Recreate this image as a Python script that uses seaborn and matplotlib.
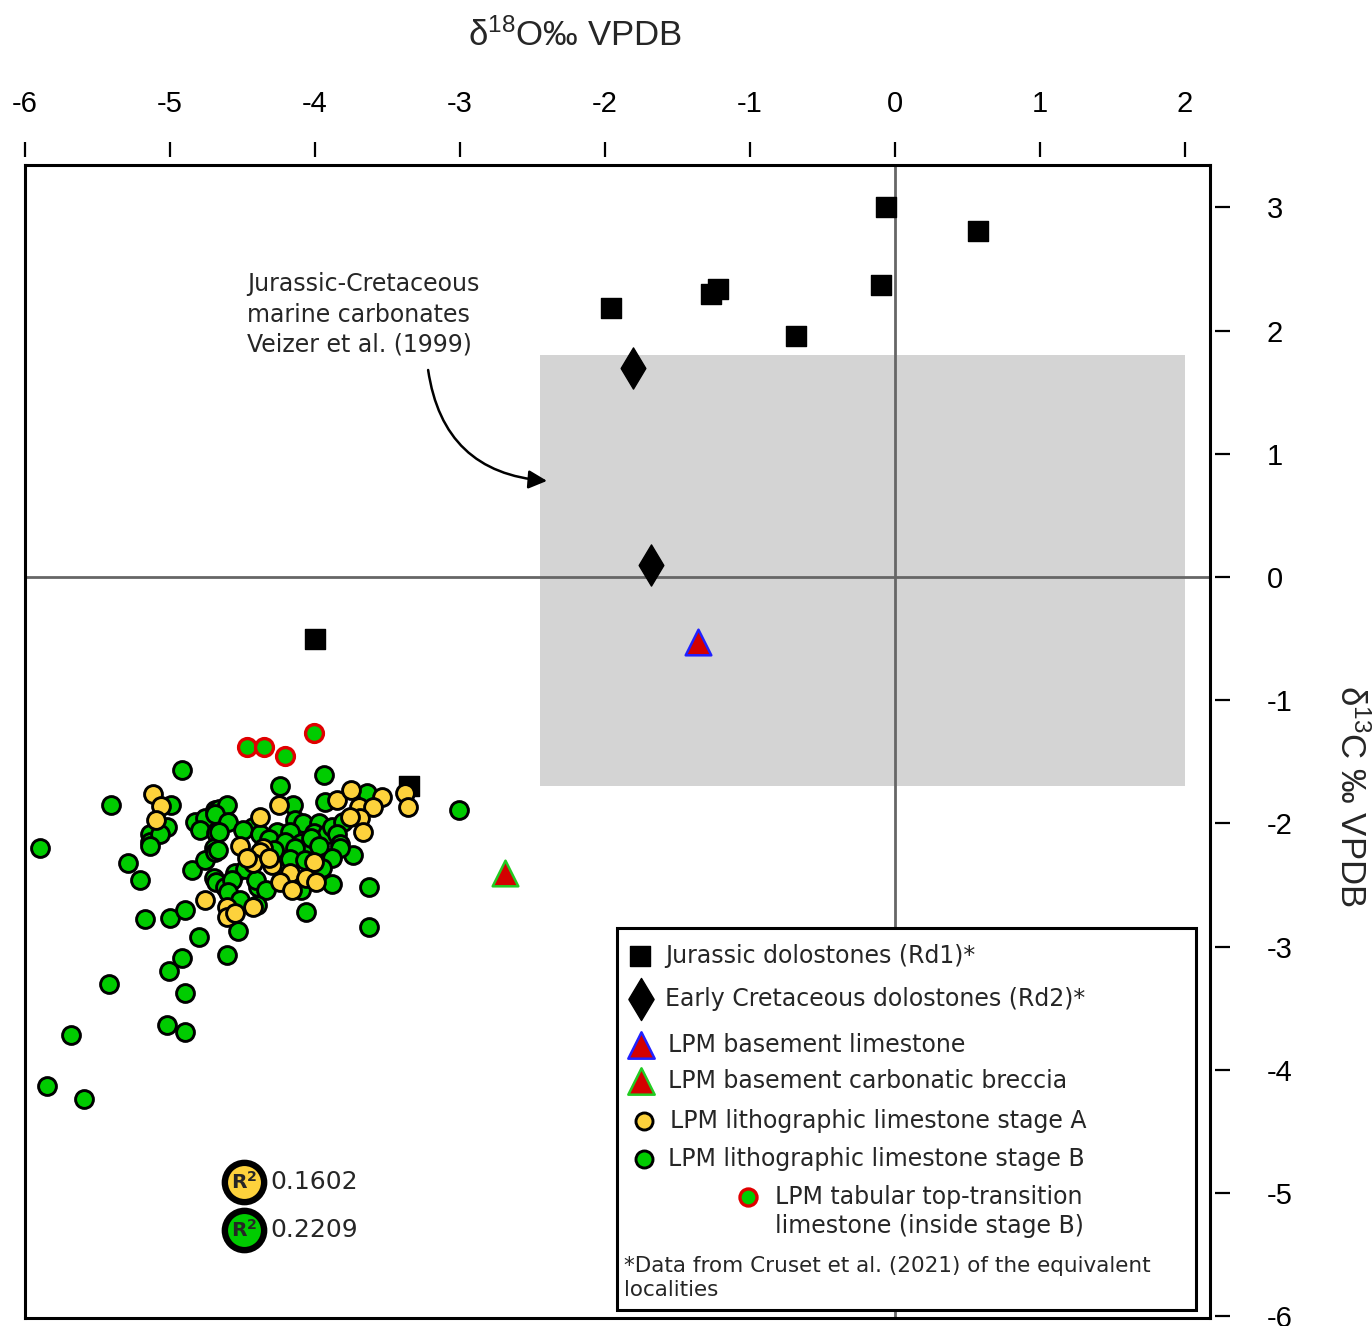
import numpy as np
import pandas as pd
import seaborn as sns
import matplotlib.pyplot as plt
from matplotlib.patches import Rectangle

sns.set_style('white')
plt.rcParams['font.family'] = ['DejaVu Sans']
plt.rcParams['axes.unicode_minus'] = False
plt.rcParams['mathtext.fontset'] = 'custom'
plt.rcParams['mathtext.rm'] = 'Liberation Sans'

# d18O (x) and d13C (y), per VPDB
jurassic_x = [-0.06, 0.57, -1.96, -1.27, -1.22, -0.10, -0.68, -4.00, -3.35]
jurassic_y = [3.00, 2.81, 2.18, 2.30, 2.34, 2.37, 1.96, -0.50, -1.70]

cretaceous_x = [-1.81, -1.68]
cretaceous_y = [1.70, 0.10]

basement_x = [-1.36]
basement_y = [-0.53]

breccia_x = [-2.69]
breccia_y = [-2.40]

stage_b_x = [-5.90, -5.85, -5.59, -5.68, -5.42, -5.02, -4.90, -4.90, -5.01, -4.92,
             -4.80, -4.61, -5.17, -5.00, -4.90, -5.29, -5.21, -5.41, -4.92, -3.94,
             -4.24, -3.01, -3.63, -3.63, -4.06, -3.88, -4.53,
             -4.99, -5.02, -5.14, -5.14, -5.07, -4.83, -4.76, -4.79, -4.69, -4.68, -4.70,
             -4.15, -3.93, -4.66, -4.61, -4.69, -4.60, -4.66, -4.43, -4.26, -4.14,
             -4.08, -3.97, -4.01, -3.92, -4.17, -4.10, -3.88,
             -3.64, -3.81, -3.85, -3.83, -3.74,
             -4.85, -4.76, -4.69, -4.70, -4.68, -5.14,
             -4.67, -4.55, -4.62, -4.39, -3.92, -4.06, -4.36, -4.30, -3.83, -3.88,
             -4.50, -4.38, -4.32, -4.21, -4.14, -4.03, -3.97, -4.17, -4.28, -4.07,
             -3.95, -4.48, -4.41, -4.34, -4.57, -4.60, -4.52, -4.10, -4.40]
stage_b_y = [-2.20, -4.13, -4.24, -3.72, -3.30, -3.64, -3.69, -3.38, -3.20, -3.09,
             -2.92, -3.07, -2.78, -2.77, -2.70, -2.32, -2.46, -1.85, -1.57, -1.61,
             -1.70, -1.89, -2.52, -2.84, -2.72, -2.49, -2.87,
             -1.85, -2.03, -2.09, -2.15, -2.09, -1.99, -1.96, -2.05, -1.89, -2.08, -2.20,
             -1.85, -1.83, -1.88, -1.85, -1.92, -1.99, -2.07, -2.03, -2.07, -1.97,
             -2.00, -2.00, -2.08, -2.09, -2.07, -2.16, -2.03,
             -1.75, -1.99, -2.09, -2.17, -2.26,
             -2.38, -2.30, -2.23, -2.44, -2.48, -2.18,
             -2.22, -2.40, -2.52, -2.52, -2.28, -2.22, -2.23, -2.19, -2.20, -2.28,
             -2.05, -2.09, -2.13, -2.15, -2.20, -2.12, -2.18, -2.29, -2.22, -2.30,
             -2.36, -2.37, -2.46, -2.54, -2.46, -2.56, -2.62, -2.54, -2.66]

stage_a_x = [-5.12, -5.06, -5.10, -4.25, -3.85, -3.75, -3.54, -3.70, -3.60, -3.69,
             -3.67, -3.38, -3.36, -4.38, -4.52, -4.36, -4.38, -4.43, -4.30, -4.17,
             -4.24, -4.16, -4.01, -4.06, -3.99, -4.43, -4.61, -4.61, -4.55, -4.76,
             -4.47, -4.32, -3.76]
stage_a_y = [-1.76, -1.86, -1.97, -1.85, -1.81, -1.73, -1.79, -1.87, -1.87, -1.96,
             -2.07, -1.75, -1.87, -1.95, -2.18, -2.20, -2.23, -2.32, -2.34, -2.40,
             -2.48, -2.54, -2.31, -2.44, -2.48, -2.68, -2.68, -2.76, -2.73, -2.62,
             -2.28, -2.28, -1.95]

tabular_x = [-4.47, -4.35, -4.21, -4.01]
tabular_y = [-1.38, -1.38, -1.45, -1.27]

# Veizer et al. (1999) Jurassic-Cretaceous marine carbonate field
veizer_x = (-2.45, 2.0)
veizer_y = (-1.70, 1.80)

r2_labels = ['0.1602', '0.2209']

YELLOW = '#fdd23c'
GREEN = '#00cc00'
RED = '#d40000'
DOT = 165

fig = plt.figure(figsize=(13.72, 13.26), dpi=100)
ax = fig.add_axes([25 / 1372, 8 / 1326, 1185 / 1372, 1153 / 1326])

ax.add_patch(Rectangle((veizer_x[0], veizer_y[0]), veizer_x[1] - veizer_x[0],
                       veizer_y[1] - veizer_y[0], facecolor='#d4d4d4',
                       edgecolor='none', zorder=0))
ax.axhline(0, color='#666666', lw=2, zorder=1)
ax.axvline(0, color='#666666', lw=2, zorder=1)

sns.scatterplot(x=jurassic_x, y=jurassic_y, ax=ax, marker='s', s=200,
                color='black', edgecolor='black', linewidth=1, zorder=3)
sns.scatterplot(x=stage_b_x, y=stage_b_y, ax=ax, marker='o', s=DOT,
                color=GREEN, edgecolor='black', linewidth=2.1, zorder=4)
sns.scatterplot(x=stage_a_x, y=stage_a_y, ax=ax, marker='o', s=DOT,
                color=YELLOW, edgecolor='black', linewidth=2.1, zorder=5)
sns.scatterplot(x=tabular_x, y=tabular_y, ax=ax, marker='o', s=DOT,
                color=GREEN, edgecolor='#e00000', linewidth=2.4, zorder=5)
sns.scatterplot(x=cretaceous_x, y=cretaceous_y, ax=ax, marker='d', s=440,
                color='black', edgecolor='black', linewidth=1, zorder=6)
sns.scatterplot(x=basement_x, y=basement_y, ax=ax, marker='^', s=340,
                color=RED, edgecolor='#2020ff', linewidth=1.8, zorder=6)
sns.scatterplot(x=breccia_x, y=breccia_y, ax=ax, marker='^', s=340,
                color=RED, edgecolor='#22cc22', linewidth=1.8, zorder=6)

ax.set_xlim(-6.0, 2.172)
ax.set_ylim(-6.015, 3.344)
ax.set_xticks([])
ax.set_yticks([])
ax.set_xlabel('')
ax.set_ylabel('')
for sp in ax.spines.values():
    sp.set_visible(True)
    sp.set_color('black')
    sp.set_linewidth(2.2)

# offset tick rows (top and right)
secx = ax.secondary_xaxis(1 + 8 / 1153)
secx.set_xticks(range(-6, 3))
secx.tick_params(direction='out', length=11, width=1.6, pad=17, labelsize=21,
                 colors='black')
for sp in secx.spines.values():
    sp.set_visible(False)
for t in secx.get_xticklabels():
    t.set_fontfamily('Liberation Sans')

secy = ax.secondary_yaxis(1 + 5 / 1185)
secy.set_yticks(range(-6, 4))
secy.tick_params(direction='out', length=11, width=1.6, pad=26, labelsize=21,
                 colors='black')
for sp in secy.spines.values():
    sp.set_visible(False)
for t in secy.get_yticklabels():
    t.set_fontfamily('Liberation Sans')

fig.text(0.419, 0.973, r'$\mathregular{\delta^{18}}$O‰ VPDB', ha='center', va='center',
         fontsize=25, family='Liberation Sans')
fig.text(0.984, 0.40, r'$\mathregular{\delta^{13}}$C ‰ VPDB', ha='center', va='center',
         fontsize=25, family='Liberation Sans', rotation=-90)

# annotation for the marine field
ax.text(-4.47, 2.13, 'Jurassic-Cretaceous\nmarine carbonates\nVeizer et al. (1999)',
        fontsize=17, ha='left', va='center', linespacing=1.33, zorder=7)
ax.annotate('', xy=(-2.40, 0.78), xytext=(-3.22, 1.68),
            arrowprops=dict(arrowstyle='-|>', color='black', lw=1.8,
                            mutation_scale=28, shrinkA=0, shrinkB=0,
                            connectionstyle='arc3,rad=0.4'),
            zorder=7)

# R2 badges
for yy, col, lab in [(0.118, YELLOW, r2_labels[0]), (0.0763, GREEN, r2_labels[1])]:
    ax.scatter([0.1848], [yy], s=800, color=col, edgecolor='black', linewidth=4.6,
               transform=ax.transAxes, zorder=8, clip_on=False)
    ax.text(0.1848, yy, r'R$^\mathbf{2}$', transform=ax.transAxes, ha='center',
            va='center', fontsize=14.5, fontweight='bold', zorder=9)
    ax.text(0.2068, yy, lab, transform=ax.transAxes, ha='left', va='center',
            fontsize=18, zorder=9)

# legend box
ax.add_patch(Rectangle((0.4996, 0.0069), 0.4884, 0.3313, transform=ax.transAxes,
                       facecolor='white', edgecolor='black', lw=2.2, zorder=10))
leg_rows = [
    (0.519, 0.314, 's', 200, 'black', 'black', 1, 0.540, 'Jurassic dolostones (Rd1)*'),
    (0.520, 0.2767, 'd', 460, 'black', 'black', 1, 0.540, 'Early Cretaceous dolostones (Rd2)*'),
    (0.520, 0.2368, '^', 360, RED, '#2020ff', 1.8, 0.5426, 'LPM basement limestone'),
    (0.520, 0.2056, '^', 360, RED, '#22cc22', 1.8, 0.5426, 'LPM basement carbonatic breccia'),
    (0.5224, 0.1709, 'o', 150, YELLOW, 'black', 2.1, 0.5445, 'LPM lithographic limestone stage A'),
    (0.5224, 0.1379, 'o', 150, GREEN, 'black', 2.1, 0.5426, 'LPM lithographic limestone stage B'),
]
for mx, my, mk, ms, fc, ec, lw, tx, lab in leg_rows:
    ax.scatter([mx], [my], marker=mk, s=ms, color=fc, edgecolor=ec, linewidth=lw,
               transform=ax.transAxes, zorder=11, clip_on=False)
    ax.text(tx, my, lab, transform=ax.transAxes, ha='left', va='center',
            fontsize=17, zorder=11)
ax.scatter([0.610], [0.1049], marker='o', s=150, color=GREEN, edgecolor='#e00000',
           linewidth=2.4, transform=ax.transAxes, zorder=11, clip_on=False)
ax.text(0.633, 0.0924, 'LPM tabular top-transition\nlimestone (inside stage B)',
        transform=ax.transAxes, ha='left', va='center', fontsize=17,
        linespacing=1.3, zorder=11)
ax.text(0.5055, 0.0347, '*Data from Cruset et al. (2021) of the equivalent\nlocalities',
        transform=ax.transAxes, ha='left', va='center', fontsize=15.5,
        linespacing=1.3, zorder=11)

plt.savefig('out.png', dpi=100)
plt.close()
